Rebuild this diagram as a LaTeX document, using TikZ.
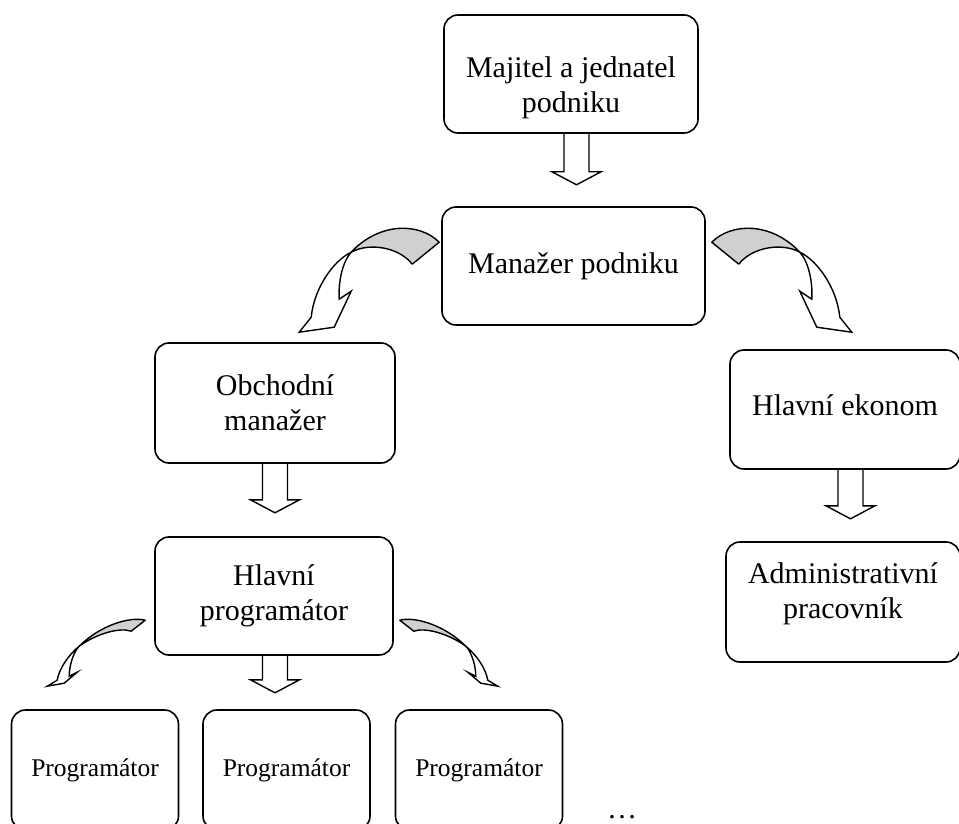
\documentclass[tikz,border=0pt]{standalone}
\usepackage{fontspec}
\setmainfont{Liberation Serif}
\usetikzlibrary{calc}
\definecolor{ribbon}{HTML}{D0D0D0}

\tikzset{
  box/.style={draw, rounded corners=7pt, line width=0.8pt, align=center, inner sep=0pt,
    font=\fontsize{15pt}{17.5pt}\selectfont},
  progbox/.style={box, minimum width=83.5pt, minimum height=60pt,
    font=\fontsize{12.75pt}{15pt}\selectfont},
  arrowline/.style={draw, line width=0.7pt, line join=miter},
  ribbonback/.style={draw, fill=ribbon, line width=0.7pt, line join=round},
  ribbonfront/.style={draw, fill=white, line width=0.7pt, line join=miter},
  % block arrow pointing down, #1 = shaft length
  pics/downarrow/.style={code={
    \draw[arrowline] (-6.25pt,0) -- ++(0,-#1) -- ++(-6pt,0) -- ++(12.25pt,-6.5pt)
      -- ++(12.25pt,6.5pt) -- ++(-6pt,0) -- ++(0,#1);
  }},
  % twisted curved arrow, tail at the origin, head down-left
  pics/bigcurve/.style={code={
    \path[ribbonback] (0,0) .. controls (-20,-20) and (-60,-20) .. (-88,10)
      .. controls (-70,0) and (-40,5) .. (-27,22) -- cycle;
    \path[ribbonfront] (-88,10) .. controls (-105,18) and (-125,45) .. (-128,75)
      -- (-140,90) -- (-105,85) -- (-88,49) -- (-100,57)
      .. controls (-101,40) and (-97,20) .. (-88,10) -- cycle;
  }},
  pics/smallcurve/.style={code={
    \path[ribbonback] (0,0) .. controls (-15,-4) and (-45,5) .. (-66,26)
      .. controls (-48,13) and (-25,7) .. (-14,11) -- cycle;
    \path[ribbonfront] (-66,26) .. controls (-76,34) and (-86,48) .. (-88,60)
      -- (-98,66) -- (-81,63) -- (-68,52) -- (-76,56)
      .. controls (-76,46) and (-72,32) .. (-66,26) -- cycle;
  }}
}

\begin{document}
\begin{tikzpicture}[x=0.5pt, y=-0.5pt]
  \useasboundingbox (0,0) rectangle (959,824);

  % boxes
  \node[box, minimum width=127pt, minimum height=59pt] (owner) at (571,74)
    {\rule{0pt}{24pt}Majitel a jednatel\\podniku};
  \node[box, minimum width=131.5pt, minimum height=59pt] (manager) at (573.5,266)
    {Manažer podniku};
  \node[box, minimum width=120pt, minimum height=60pt] (sales) at (275,403)
    {Obchodní\\manažer};
  \node[box, minimum width=115pt, minimum height=59.5pt] (economist) at (845,409.5)
    {Hlavní ekonom\rule[-4pt]{0pt}{4pt}};
  \node[box, minimum width=119pt, minimum height=59pt] (leadprog) at (274,596)
    {Hlavní\\programátor};
  \node[box, minimum width=117pt, minimum height=60pt] (admin) at (843,602)
    {Administrativní\\pracovník\rule[-11pt]{0pt}{11pt}};
  \node[progbox] (prog1) at (95,770) {Programátor};
  \node[progbox] (prog2) at (286.5,770) {Programátor};
  \node[progbox] (prog3) at (479,770) {Programátor};
  \node[anchor=base, font=\fontsize{15pt}{17.5pt}\selectfont] (more) at (622,818) {…};

  % straight block arrows
  \pic at ($(owner.south)+(5.5,0)$) {downarrow=19pt};
  \pic at (sales.south) {downarrow=18pt};
  \pic at ($(economist.south)+(5.5,0)$) {downarrow=18pt};
  \pic at ($(leadprog.south)+(1,0)$) {downarrow=12pt};

  % curved arrows
  \pic at ($(manager.north west)+(-2,36)$) {bigcurve};
  \pic[xscale=-1] at ($(manager.north east)+(6,36)$) {bigcurve};
  \pic at ($(leadprog.north west)+(-9,84)$) {smallcurve};
  \pic[xscale=-1] at ($(leadprog.north east)+(6,84)$) {smallcurve};
\end{tikzpicture}
\end{document}
